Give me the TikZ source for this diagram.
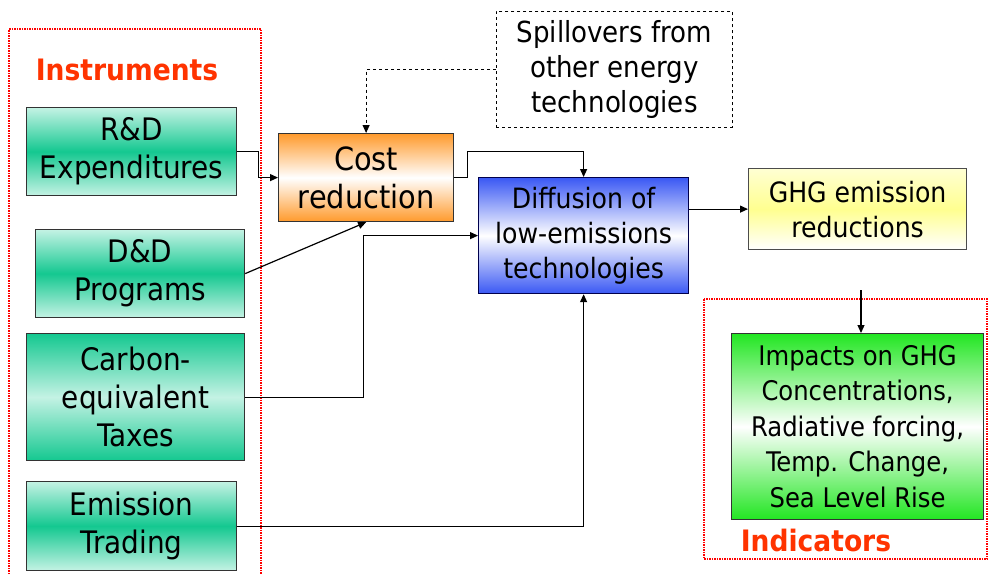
\documentclass[tikz,border=0pt]{standalone}
\usepackage{fontspec}
\setmainfont{DejaVu Sans Condensed}
\usetikzlibrary{arrows.meta,calc}
\definecolor{instdark}{HTML}{14C890}
\definecolor{instlight}{HTML}{C4F2E4}
\definecolor{orng}{HTML}{FF9A2C}
\definecolor{blu}{HTML}{3A58F4}
\definecolor{grn}{HTML}{22E622}
\definecolor{ylw}{HTML}{FFFF90}
\definecolor{ttl}{HTML}{FF3300}
\definecolor{frm}{HTML}{FF0000}
\tikzset{
  box/.style={draw=black!80, line width=1.2pt, inner sep=0pt, anchor=north west, align=center},
  instA/.style={box, top color=instlight, bottom color=instlight, middle color=instdark, font=\fontsize{31}{38}\selectfont},
  instB/.style={box, top color=instdark, bottom color=instdark, middle color=instlight, font=\fontsize{31}{38}\selectfont},
  costbox/.style={box, top color=orng, bottom color=orng, middle color=white, font=\fontsize{32}{38}\selectfont},
  diffbox/.style={box, draw=blue!30!black, top color=blu, bottom color=blu, middle color=white, font=\fontsize{28}{35}\selectfont},
  ghgbox/.style={box, draw=black!70, top color=ylw!40, bottom color=white, middle color=ylw, font=\fontsize{28}{35}\selectfont},
  impbox/.style={box, top color=grn, bottom color=grn, middle color=white, font=\fontsize{27}{35.5}\selectfont},
  spillbox/.style={box, draw=black, line width=0.9pt, dashed, fill=white, font=\fontsize{29}{35}\selectfont},
  ttlstyle/.style={text=ttl, font=\fontsize{29.5}{34}\selectfont\bfseries},
  redframe/.style={draw=frm, dash pattern=on 1.5pt off 1pt, line width=1.1pt},
  arr/.style={draw=black, line width=1.2pt, -{Triangle[length=8pt,width=7pt]}},
  darr/.style={draw=black, line width=0.9pt, dashed, -{Triangle[length=8pt,width=7pt]}},
}
\begin{document}
\begin{tikzpicture}[x=1pt,y=-1pt]
\useasboundingbox (0,0) rectangle (988,574);
% frames
\draw[redframe] (9,574) -- (9,29) -- (261,29) -- (261,574);
\draw[redframe] (704,299) rectangle (987,559);
\node[ttlstyle] (tinst) at (127,70) {Instruments};
\node[ttlstyle] (tind) at (816,540) {Indicators};
% instrument boxes
\node[instA, minimum width=210pt, minimum height=88pt] (rd) at (26,107) {R\&D\\Expenditures};
\node[instA, minimum width=209pt, minimum height=88pt] (dd) at (35,229) {D\&D\\Programs};
\node[instB, minimum width=218pt, minimum height=127pt] (ct) at (26,333) {Carbon-\\equivalent\\Taxes};
\node[instA, minimum width=210pt, minimum height=89pt] (et) at (26,481) {Emission\\Trading};
% central boxes
\node[costbox, minimum width=175pt, minimum height=88pt] (cost) at (278,133) {Cost\\reduction};
\node[spillbox, minimum width=236pt, minimum height=116pt] (spill) at (496,11) {Spillovers from\\other energy\\technologies};
\node[diffbox, minimum width=210pt, minimum height=116pt] (diff) at (478,177) {Diffusion of\\low-emissions\\technologies};
\node[ghgbox, minimum width=218pt, minimum height=81pt] (ghg) at (748,168) {GHG emission\\reductions};
\node[impbox, minimum width=252pt, minimum height=186pt] (imp) at (731,333) {Impacts on GHG\\Concentrations,\\Radiative forcing,\\Temp. Change,\\Sea Level Rise};
% connectors
\draw[darr] (spill.west) -| (cost.north);
\draw[arr] (rd.east) -- ++(21,0) |- (cost.west);
\draw[arr] (dd.east) -- (cost.south);
\draw[arr] (cost.east) -- ++(13,0) |- (diff.north |- rd.east) -- (diff.north);
\draw[arr] (ct.east) -- ++(118,0) |- (diff.west);
\draw[arr] (et.east) -| (diff.south);
\draw[arr] (diff.east |- ghg.west) -- (ghg.west);
\coordinate (g1) at (861,290);
\draw[arr] (g1) -- (g1 |- imp.north);
\end{tikzpicture}
\end{document}
